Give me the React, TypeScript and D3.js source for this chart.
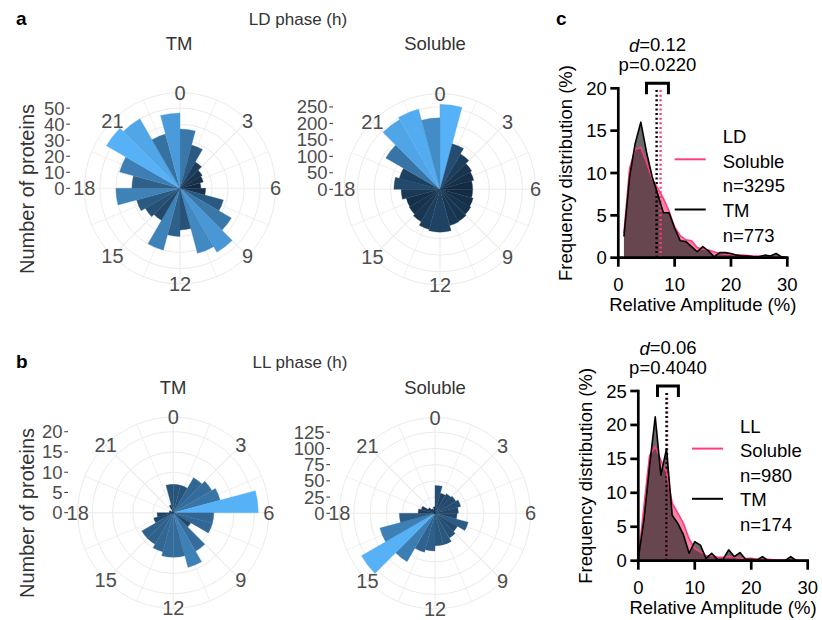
import * as d3 from 'd3'

// circadian phase, counts per 1-h bin (bin i covers i..i+1 h)
const phaseBins = [0, 1, 2, 3, 4, 5, 6, 7, 8, 9, 10, 11, 12, 13, 14, 15, 16, 17, 18, 19, 20, 21, 22, 23]
const ldTmCounts = [37, 28, 19, 16, 15, 13, 16, 28, 37, 46, 42, 26, 30, 40, 23, 25, 28, 40, 30, 39, 53, 50, 35, 47]
const ldSolCounts = [258, 143, 124, 111, 106, 99, 99, 104, 108, 112, 114, 130, 130, 126, 114, 108, 106, 118, 140, 128, 190, 245, 252, 217]
const llTmCounts = [7, 7, 10, 11, 12, 21, 10, 10, 5, 11, 14, 11, 11, 10, 9, 9, 5, 4, 1, 1, 0, 0, 2, 7]
const llSolCounts = [43, 32, 35, 37, 41, 36, 34, 53, 40, 44, 50, 50, 58, 62, 86, 131, 88, 55, 26, 22, 12, 8, 6, 10]
const phaseLabels = [0, 3, 6, 9, 12, 15, 18, 21]
const ldTmTicks = [0, 10, 20, 30, 40, 50]
const ldSolTicks = [0, 50, 100, 150, 200, 250]
const llTmTicks = [0, 5, 10, 15, 20]
const llSolTicks = [0, 25, 50, 75, 100, 125]

// relative amplitude distributions, frequency (%)
const ldAmp = [1, 2, 3, 4, 5, 6, 7, 8, 9, 10, 11, 12, 13, 14, 15, 16, 17, 18, 19, 20, 21, 22, 23, 24, 25, 26, 27, 28, 29, 30]
const ldSolFreq = [2.9, 10.5, 12.8, 13.0, 11.3, 9.3, 8.2, 7.0, 5.5, 3.6, 2.6, 2.1, 2.0, 1.2, 1.0, 0.9, 0.7, 0.5, 0.4, 0.4, 0.3, 0.3, 0.25, 0.2, 0.2, 0.15, 0.15, 0.1, 0.1, 0.05]
const ldTmFreq = [2.5, 9.5, 13.5, 16.0, 12.5, 9.6, 7.5, 5.3, 5.3, 3.5, 2.0, 1.9, 1.3, 0.7, 1.3, 0.8, 0.1, 0.6, 0.6, 0.5, 0.3, 0.2, 0.2, 0.1, 0.1, 0.3, 0.2, 0.5, 0.1, 0.0]
const llAmp = [0, 1, 2, 3, 4, 5, 6, 7, 8, 9, 10, 11, 12, 13, 14, 15, 16, 17, 18, 19, 20, 21, 22, 23, 24, 25, 26, 27, 28, 29, 30]
const llSolFreq = [0.3, 8, 15.5, 16.8, 14.8, 13, 8.5, 7, 5.5, 3.2, 1.8, 1.3, 0.7, 0.8, 0.5, 0.5, 0.6, 0.5, 0.4, 0.3, 0.35, 0.25, 0.2, 0.2, 0.15, 0.1, 0.1, 0.15, 0.05, 0.05, 0.05]
const llTmFreq = [0.3, 6, 14, 21.2, 12.6, 16.5, 6.7, 5.5, 3.8, 1.1, 2.8, 2.3, 0.3, 1.1, 0.2, 0.2, 1.6, 0.6, 1.2, 0.2, 0.2, 0.1, 0.6, 0, 0, 0, 0, 0.6, 0, 0, 0]
const ampTicks = [0, 10, 20, 30]
const ldFreqTicks = [0, 5, 10, 15, 20]
const llFreqTicks = [0, 5, 10, 15, 20, 25]
const ldMeans = [6.8, 7.5] // TM, Soluble
const llMeans = [5.0, 5.1]
const ldBracket = [5.0, 8.9]
const llBracket = [3.4, 7.1]

const FONT = '"Liberation Sans", Arial, Helvetica, sans-serif'
const PINK = '#ff3d7f'
const GRID = '#ebebeb'

const Rose = ({ cx, cy, axisX, counts, ticks }) => {
  const R = 85
  const outer = R * 1.125
  const r = d3.scaleLinear().domain([0, d3.max(counts)]).range([0, R])
  const theta = d3.scaleLinear().domain([0, 24]).range([0, 2 * Math.PI])
  const fill = d3.scaleLinear<string>()
    .domain(d3.extent(counts) as [number, number])
    .range(['#132B43', '#56B1F7'])
    .interpolate(d3.interpolateLab)
  const arc = d3.arc()
  const spokes = d3.range(0, 24, 1.5)

  return (
    <g>
      <g transform={`translate(${cx},${cy})`}>
        {ticks.filter(t => t > 0).map(t => (
          <circle key={t} r={r(t)} fill="none" stroke={GRID} strokeWidth={1} />
        ))}
        <circle r={outer} fill="none" stroke={GRID} strokeWidth={1} />
        {spokes.map(h => (
          <line key={h} x1={0} y1={0}
            x2={outer * Math.sin(theta(h))} y2={-outer * Math.cos(theta(h))}
            stroke={GRID} strokeWidth={h % 3 === 0 ? 1.1 : 0.8} />
        ))}
        {counts.map((c, i) => (
          <path key={i}
            d={arc({ innerRadius: 0, outerRadius: r(c), startAngle: theta(phaseBins[i]), endAngle: theta(phaseBins[i] + 1) })}
            fill={fill(c)} stroke={fill(c)} strokeWidth={0.3} />
        ))}
        {phaseLabels.map(h => (
          <text key={h} x={outer * Math.sin(theta(h))} y={-outer * Math.cos(theta(h))}
            textAnchor="middle" dominantBaseline="central" fontSize={20} fill="#4d4d4d">{h}</text>
        ))}
      </g>
      {ticks.map(t => (
        <g key={t}>
          <line x1={axisX - 3.7} x2={axisX} y1={cy - r(t)} y2={cy - r(t)} stroke="#333" strokeWidth={1} />
          <text x={axisX - 5.5} y={cy - r(t)} textAnchor="end" dominantBaseline="central"
            fontSize={18.5} fill="#4d4d4d">{t}</text>
        </g>
      ))}
    </g>
  )
}

const Hist = ({ x0, x1, y0, y1, amp, sol, tm, yTicks, means, bracket, dText, pText, cond, nSol, nTm, legX, legY }) => {
  const yMax = d3.max(yTicks)
  const x = d3.scaleLinear().domain([0, 30]).range([x0, x1])
  const y = d3.scaleLinear().domain([0, yMax]).range([y0, y1])
  const area = d3.area<number>().x((_, i) => x(amp[i])).y0(y(0)).y1(v => y(v))
  const line = d3.line<number>().x((_, i) => x(amp[i])).y(v => y(v))
  const yTop = y(yMax)
  const bx0 = x(bracket[0])
  const bx1 = x(bracket[1])
  const bcx = (bx0 + bx1) / 2
  const row = 24.6

  return (
    <g fontFamily={FONT} fontSize={18.5} fill="#000">
      <path d={area(sol)} fill="#f25c8a" fillOpacity={0.75} />
      <path d={area(tm)} fill="#2b2b2b" fillOpacity={0.7} />
      <line x1={x(means[1])} x2={x(means[1])} y1={y0} y2={yTop} stroke={PINK} strokeWidth={2.4} strokeDasharray="2 2.6" />
      <line x1={x(means[0])} x2={x(means[0])} y1={y0} y2={yTop} stroke="#000" strokeWidth={2.4} strokeDasharray="2 2.6" />
      <path d={line(sol)} fill="none" stroke={PINK} strokeWidth={1.6} strokeLinejoin="round" />
      <path d={line(tm)} fill="none" stroke="#000" strokeWidth={1.6} strokeLinejoin="round" />

      {/* axes */}
      <line x1={x0} x2={x0} y1={y0 + 1.3} y2={yTop - 1.3} stroke="#000" strokeWidth={2.7} />
      <line x1={x0 - 1.3} x2={x1 + 1.3} y1={y0} y2={y0} stroke="#000" strokeWidth={2.7} />
      {yTicks.map(t => (
        <g key={t}>
          <line x1={x0 - 8} x2={x0} y1={y(t)} y2={y(t)} stroke="#000" strokeWidth={2.7} />
          <text x={x0 - 11.5} y={y(t)} textAnchor="end" dominantBaseline="central">{t}</text>
        </g>
      ))}
      {ampTicks.map(t => (
        <g key={t}>
          <line x1={x(t)} x2={x(t)} y1={y0} y2={y0 + 9} stroke="#000" strokeWidth={2.7} />
          <text x={x(t)} y={y0 + 27} textAnchor="middle" dominantBaseline="central">{t}</text>
        </g>
      ))}
      <text x={(x0 + x1) / 2} y={y0 + 47} textAnchor="middle" dominantBaseline="central">Relative Amplitude (%)</text>
      <text transform={`translate(${x0 - 53},${(y0 + yTop) / 2}) rotate(-90)`} textAnchor="middle" dominantBaseline="central">
        Frequency distribution (%)
      </text>

      {/* significance bracket */}
      <path d={`M${bx0},${yTop + 6}V${yTop - 5}H${bx1}V${yTop + 6}`} fill="none" stroke="#000" strokeWidth={3} />
      <text x={bcx} y={yTop - 43.5} textAnchor="middle" dominantBaseline="central">
        <tspan fontStyle="italic">d</tspan>={dText}
      </text>
      <text x={bcx} y={yTop - 23.5} textAnchor="middle" dominantBaseline="central">p={pText}</text>

      {/* legend */}
      <text x={legX} y={legY} dominantBaseline="central">{cond}</text>
      <line x1={legX - 48} x2={legX - 17} y1={legY + row - 2} y2={legY + row - 2} stroke={PINK} strokeWidth={2} />
      <text x={legX} y={legY + row} dominantBaseline="central">Soluble</text>
      <text x={legX} y={legY + row * 2} dominantBaseline="central">n={nSol}</text>
      <line x1={legX - 48} x2={legX - 17} y1={legY + row * 3 - 1} y2={legY + row * 3 - 1} stroke="#000" strokeWidth={2} />
      <text x={legX} y={legY + row * 3} dominantBaseline="central">TM</text>
      <text x={legX} y={legY + row * 4} dominantBaseline="central">n={nTm}</text>
    </g>
  )
}

export default function App() {
  return (
    <svg width={822} height={620} viewBox="0 0 822 620"
      style={{ position: 'absolute', left: 0, top: 0, background: '#fff' }} fontFamily={FONT}>
      <text x={16} y={25} fontSize={19} fontWeight="bold">a</text>
      <text x={16} y={368} fontSize={19} fontWeight="bold">b</text>
      <text x={556} y={25} fontSize={19} fontWeight="bold">c</text>

      <g fill="#333" textAnchor="middle" dominantBaseline="central">
        <text x={298} y={19} fontSize={17}>LD phase (h)</text>
        <text x={179} y={43} fontSize={18.5}>TM</text>
        <text x={435} y={43} fontSize={18.5}>Soluble</text>
        <text x={300} y={362} fontSize={17}>LL phase (h)</text>
        <text x={173} y={387} fontSize={18.5}>TM</text>
        <text x={435} y={387} fontSize={18.5}>Soluble</text>
        <text transform="translate(27,189) rotate(-90)" fontSize={20}>Number of proteins</text>
        <text transform="translate(27,513) rotate(-90)" fontSize={20}>Number of proteins</text>
      </g>

      <Rose cx={180} cy={188.3} axisX={70} counts={ldTmCounts} ticks={ldTmTicks} />
      <Rose cx={440} cy={189.3} axisX={333} counts={ldSolCounts} ticks={ldSolTicks} />
      <Rose cx={173.3} cy={512.7} axisX={68} counts={llTmCounts} ticks={llTmTicks} />
      <Rose cx={435} cy={513.3} axisX={330} counts={llSolCounts} ticks={llSolTicks} />

      <Hist x0={618.3} x1={787.3} y0={257.7} y1={88.3} amp={ldAmp} sol={ldSolFreq} tm={ldTmFreq}
        yTicks={ldFreqTicks} means={ldMeans} bracket={ldBracket} dText="0.12" pText="0.0220"
        cond="LD" nSol={3295} nTm={773} legX={722.7} legY={136.7} />
      <Hist x0={638.3} x1={807.7} y0={560.7} y1={391} amp={llAmp} sol={llSolFreq} tm={llTmFreq}
        yTicks={llFreqTicks} means={llMeans} bracket={llBracket} dText="0.06" pText="0.4040"
        cond="LL" nSol={980} nTm={174} legX={740} legY={426} />
    </svg>
  )
}
